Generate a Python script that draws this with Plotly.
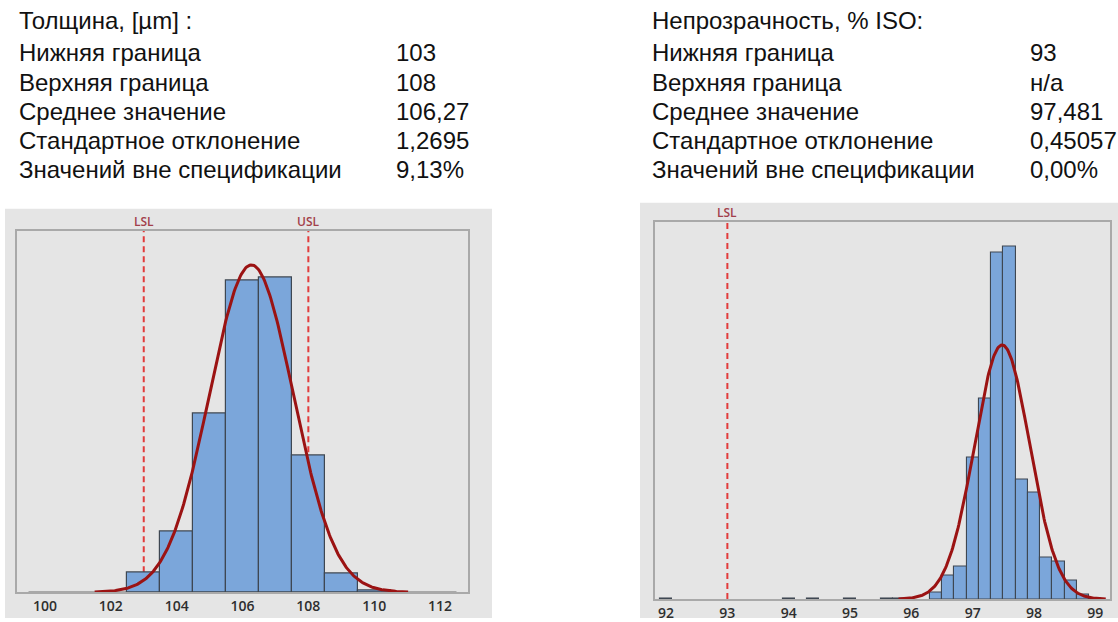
import numpy as np
import plotly.graph_objects as go

# ---- Thickness histogram (bin width 1 µm), % of values per bin ----
thk_bins = [103, 104, 105, 106, 107, 108, 109, 110]
thk_pct = [1.9, 5.8, 17.2, 29.9, 30.2, 13.1, 1.75, 0.16]
thk_binw = 1.0
thk_lsl, thk_usl = 103, 108
thk_mean, thk_sd = 106.27, 1.2695
thk_ticks = [100, 102, 104, 106, 108, 110, 112]

# ---- Opacity histogram (bin width 0.2 %), % of values per bin ----
opa_bins = [92.0, 94.0, 94.4, 95.0, 95.6, 95.8, 96.4, 96.6, 96.8, 97.0, 97.2,
            97.4, 97.6, 97.8, 98.0, 98.2, 98.4, 98.6, 98.8, 99.0]
opa_pct = [0.03, 0.03, 0.03, 0.03, 0.03, 0.03, 0.46, 1.62, 2.27, 9.85, 14.0,
           24.2, 24.6, 8.35, 7.43, 2.91, 2.62, 1.30, 0.30, 0.07]
opa_binw = 0.2
opa_lsl = 93
opa_mean, opa_sd = 97.481, 0.45057
opa_ticks = [92, 93, 94, 95, 96, 97, 98, 99]

# ---- Summary text blocks ----
thk_title = "Толщина, [µm] :"
opa_title = "Непрозрачность, % ISO:"
row_names = ["Нижняя граница", "Верхняя граница", "Среднее значение",
             "Стандартное отклонение", "Значений вне спецификации"]
thk_values = ["103", "108", "106,27", "1,2695", "9,13%"]
opa_values = ["93", "н/а", "97,481", "0,45057", "0,00%"]

W, H = 1118, 622
BAR = "#7BA6DA"
BAR_EDGE = "#3E4752"
CURVE = "#9B1313"
SPEC = "#E23B3B"
SPEC_TXT = "#A2404A"
FRAME = "#A9A9A9"
PANEL = "#E5E5E5"


def px(x):
    return x / W


def py(y):
    return 1 - y / H


def normal_curve(mean, sd, total, binw):
    xs = np.linspace(mean - 3.75 * sd, mean + 3.75 * sd, 300)
    ys = total * binw * np.exp(-0.5 * ((xs - mean) / sd) ** 2) / (sd * np.sqrt(2 * np.pi))
    return xs, ys


fig = go.Figure()

# histograms
fig.add_trace(go.Bar(x=thk_bins, y=thk_pct, width=thk_binw, xaxis="x", yaxis="y",
                     marker=dict(color=BAR, line=dict(color=BAR_EDGE, width=1.2))))
fig.add_trace(go.Bar(x=opa_bins, y=opa_pct, width=opa_binw, xaxis="x2", yaxis="y2",
                     marker=dict(color=BAR, line=dict(color=BAR_EDGE, width=1.1))))

# fitted normal curves
cx, cy = normal_curve(thk_mean, thk_sd, sum(thk_pct), thk_binw)
fig.add_trace(go.Scatter(x=cx, y=cy, mode="lines", xaxis="x", yaxis="y",
                         line=dict(color=CURVE, width=3)))
cx, cy = normal_curve(opa_mean, opa_sd, sum(opa_pct), opa_binw)
fig.add_trace(go.Scatter(x=cx, y=cy, mode="lines", xaxis="x2", yaxis="y2",
                         line=dict(color=CURVE, width=3)))

shapes = [
    # grey panels behind each chart
    dict(type="rect", xref="paper", yref="paper", x0=px(5), x1=px(492), y0=py(622), y1=py(210),
         fillcolor=PANEL, line=dict(width=0), layer="below"),
    dict(type="rect", xref="paper", yref="paper", x0=px(640), x1=px(1118), y0=py(622), y1=py(204),
         fillcolor=PANEL, line=dict(width=0), layer="below"),
    # baseline of the thickness histogram
    dict(type="line", xref="x", yref="y", x0=min(thk_ticks) - 0.5, x1=max(thk_ticks) + 0.5,
         y0=0, y1=0, line=dict(color="#6E6E6E", width=1.5), layer="below"),
    # specification limits
    dict(type="line", xref="x", yref="y domain", x0=thk_lsl, x1=thk_lsl, y0=0, y1=1,
         line=dict(color=SPEC, width=2, dash="6px,4px"), layer="below"),
    dict(type="line", xref="x", yref="y domain", x0=thk_usl, x1=thk_usl, y0=0, y1=1,
         line=dict(color=SPEC, width=2, dash="6px,4px"), layer="below"),
    dict(type="line", xref="x2", yref="y2 domain", x0=opa_lsl, x1=opa_lsl, y0=0, y1=1,
         line=dict(color=SPEC, width=2, dash="6px,4px"), layer="below"),
]

annotations = []
spec_font = dict(family="Open Sans", size=12, color=SPEC_TXT, weight=600)
for xr, yr, xv, lab in [("x", "y domain", thk_lsl, "LSL"), ("x", "y domain", thk_usl, "USL"),
                        ("x2", "y2 domain", opa_lsl, "LSL")]:
    annotations.append(dict(x=xv, y=1, xref=xr, yref=yr, text=lab, showarrow=False,
                            xanchor="center", yanchor="bottom", yshift=-1, font=spec_font))

txt_font = dict(family="Liberation Sans, Arial", size=24, color="#111111")
row_y = [53, 83, 112, 141, 171]


def add_block(x_label, x_value, title, values):
    annotations.append(dict(x=px(x_label), y=py(21), xref="paper", yref="paper", text=title,
                            showarrow=False, xanchor="left", yanchor="middle", font=txt_font))
    for yy, name, val in zip(row_y, row_names, values):
        annotations.append(dict(x=px(x_label), y=py(yy), xref="paper", yref="paper", text=name,
                                showarrow=False, xanchor="left", yanchor="middle", font=txt_font))
        annotations.append(dict(x=px(x_value), y=py(yy), xref="paper", yref="paper", text=val,
                                showarrow=False, xanchor="left", yanchor="middle", font=txt_font))


add_block(17, 394, thk_title, thk_values)
add_block(650, 1028, opa_title, opa_values)

tick_font = dict(family="Open Sans", size=14, color="#2E2E2E", weight=600)
xax = dict(showgrid=False, zeroline=False, showline=True, mirror=True, linecolor=FRAME, linewidth=2,
           ticks="", tickfont=tick_font, fixedrange=True)
yax = dict(showgrid=False, zeroline=False, showline=True, mirror=True, linecolor=FRAME, linewidth=2,
           showticklabels=False, ticks="", fixedrange=True)

fig.update_layout(
    width=W, height=H,
    margin=dict(l=0, r=0, t=0, b=0),
    paper_bgcolor="white", plot_bgcolor="white",
    showlegend=False, bargap=0,
    xaxis=dict(xax, domain=[px(17), px(468)], range=[99.15, 112.85],
               tickvals=thk_ticks, anchor="y"),
    yaxis=dict(yax, domain=[py(596), py(232)], range=[0, 34.73], anchor="x"),
    xaxis2=dict(xax, domain=[px(655), px(1110)], range=[91.82, 99.24],
                tickvals=opa_ticks, anchor="y2"),
    yaxis2=dict(yax, domain=[py(603), py(223)], range=[0, 26.35], anchor="x2"),
    shapes=shapes,
    annotations=annotations,
)

fig.write_html("out.html")
